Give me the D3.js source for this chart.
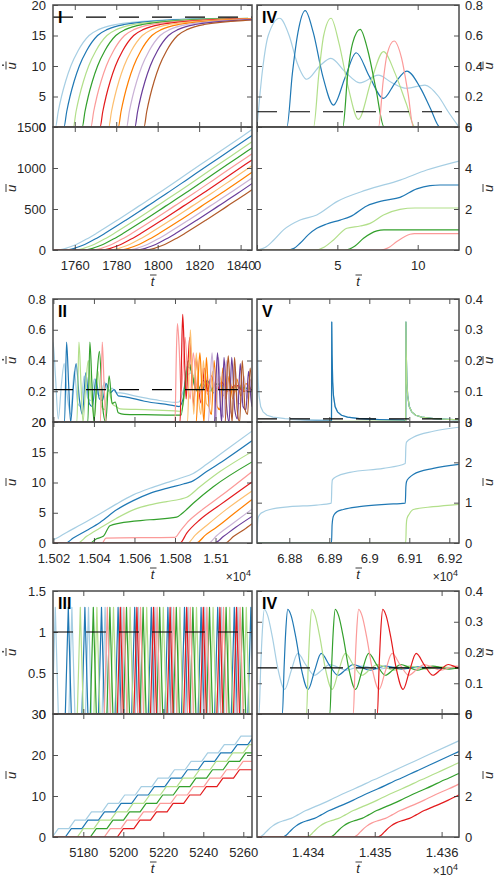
<!DOCTYPE html>
<html>
<head>
<meta charset="utf-8">
<script src="https://cdn.jsdelivr.net/npm/d3@7/dist/d3.min.js"></script>
<style>
  body { margin: 0; background: #fff; }
  text { font-family: "Liberation Sans", Arial, sans-serif; }
</style>
</head>
<body>
<svg id="chart" width="503" height="880"></svg>
<script>
// ColorBrewer "Paired" order, yellow left out
const paired = ["#a6cee3", "#1f78b4", "#b2df8a", "#33a02c", "#fb9a99", "#e31a1c", "#fdbf6f", "#ff7f00", "#cab2d6", "#6a3d9a", "#b15928"];

// ---------- panel I (rows 1, left) ----------
const domainI = [1749.5, 1845.5];
const ticksI = [1760, 1780, 1800, 1820, 1840];
// velocity levels and the time each curve crosses them
const velLevelsI = [0, 0, 2.5, 5, 7.5, 10, 12.5, 15, 16, 16.8, 17.5, 17.8];
const velCrossI = [
  [1749, 1750.7, 1752.0, 1753.6, 1755.6, 1758.1, 1761.6, 1766.9, 1771.7, 1779.7, 1800.7, 1830.7],
  [1749, 1754.8, 1756.1, 1757.7, 1759.7, 1762.2, 1765.7, 1771.0, 1775.8, 1783.8, 1804.8, 1834.8],
  [1749, 1759.3, 1760.6, 1762.2, 1764.2, 1766.7, 1770.2, 1775.5, 1780.3, 1788.3, 1809.3, 1839.3],
  [1749, 1763.6, 1764.9, 1766.5, 1768.5, 1771.0, 1774.5, 1779.8, 1784.6, 1792.6, 1813.6, 1843.6],
  [1749, 1767.8, 1769.1, 1770.7, 1772.7, 1775.2, 1778.7, 1784.0, 1788.8, 1796.8, 1817.8, 1847.8],
  [1749, 1772.2, 1773.5, 1775.1, 1777.1, 1779.6, 1783.1, 1788.4, 1793.2, 1801.2, 1822.2, 1852.2],
  [1749, 1776.4, 1777.7, 1779.3, 1781.3, 1783.8, 1787.3, 1792.6, 1797.4, 1805.4, 1826.4, 1856.4],
  [1749, 1781.0, 1782.3, 1783.9, 1785.9, 1788.4, 1791.9, 1797.2, 1802.0, 1810.0, 1831.0, 1861.0],
  [1749, 1785.0, 1786.3, 1787.9, 1789.9, 1792.4, 1795.9, 1801.2, 1806.0, 1814.0, 1835.0, 1865.0],
  [1749, 1789.0, 1790.3, 1791.9, 1793.9, 1796.4, 1799.9, 1805.2, 1810.0, 1818.0, 1839.0, 1869.0],
  [1749, 1793.4, 1794.7, 1796.3, 1798.3, 1800.8, 1804.3, 1809.6, 1814.4, 1822.4, 1843.4, 1873.4]
];
const posLevelsI = [0, 0, 5, 20, 42, 68, 133, 207, 366, 532, 698, 870, 1042, 1213, 1385, 1559];
const posCrossI = [
  [1749, 1750.7, 1753.2, 1755.7, 1758.2, 1760.7, 1765.7, 1770.7, 1780.7, 1790.7, 1800.7, 1810.7, 1820.7, 1830.7, 1840.7, 1850.7],
  [1749, 1754.8, 1757.3, 1759.8, 1762.3, 1764.8, 1769.8, 1774.8, 1784.8, 1794.8, 1804.8, 1814.8, 1824.8, 1834.8, 1844.8, 1854.8],
  [1749, 1759.3, 1761.8, 1764.3, 1766.8, 1769.3, 1774.3, 1779.3, 1789.3, 1799.3, 1809.3, 1819.3, 1829.3, 1839.3, 1849.3, 1859.3],
  [1749, 1763.6, 1766.1, 1768.6, 1771.1, 1773.6, 1778.6, 1783.6, 1793.6, 1803.6, 1813.6, 1823.6, 1833.6, 1843.6, 1853.6, 1863.6],
  [1749, 1767.8, 1770.3, 1772.8, 1775.3, 1777.8, 1782.8, 1787.8, 1797.8, 1807.8, 1817.8, 1827.8, 1837.8, 1847.8, 1857.8, 1867.8],
  [1749, 1772.2, 1774.7, 1777.2, 1779.7, 1782.2, 1787.2, 1792.2, 1802.2, 1812.2, 1822.2, 1832.2, 1842.2, 1852.2, 1862.2, 1872.2],
  [1749, 1776.4, 1778.9, 1781.4, 1783.9, 1786.4, 1791.4, 1796.4, 1806.4, 1816.4, 1826.4, 1836.4, 1846.4, 1856.4, 1866.4, 1876.4],
  [1749, 1781.0, 1783.5, 1786.0, 1788.5, 1791.0, 1796.0, 1801.0, 1811.0, 1821.0, 1831.0, 1841.0, 1851.0, 1861.0, 1871.0, 1881.0],
  [1749, 1785.0, 1787.5, 1790.0, 1792.5, 1795.0, 1800.0, 1805.0, 1815.0, 1825.0, 1835.0, 1845.0, 1855.0, 1865.0, 1875.0, 1885.0],
  [1749, 1789.0, 1791.5, 1794.0, 1796.5, 1799.0, 1804.0, 1809.0, 1819.0, 1829.0, 1839.0, 1849.0, 1859.0, 1869.0, 1879.0, 1889.0],
  [1749, 1793.4, 1795.9, 1798.4, 1800.9, 1803.4, 1808.4, 1813.4, 1823.4, 1833.4, 1843.4, 1853.4, 1863.4, 1873.4, 1883.4, 1893.4]
];

// ---------- panel IV (row 1, right) ----------
const domainIVa = [0, 12.57];
const ticksIVa = [0, 5, 10];
const velIVa = [
  [[0, 0], [0.35, 0.38], [0.7, 0.6], [1.41, 0.713], [2.0, 0.6], [2.5, 0.42], [3.1, 0.313], [3.9, 0.4], [4.6, 0.45], [5.5, 0.36], [6.4, 0.29], [7.55, 0.34], [8.4, 0.29], [9.3, 0.254], [10.45, 0.275], [11.3, 0.2], [11.9, 0.1], [12.57, 0]],
  [[0, 0], [1.86, 0], [2.2, 0.35], [2.55, 0.62], [3.0, 0.763], [3.5, 0.62], [4.1, 0.33], [4.76, 0.144], [5.5, 0.33], [6.17, 0.487], [7.0, 0.33], [7.87, 0.188], [8.6, 0.29], [9.32, 0.367], [10.2, 0.25], [10.8, 0.12], [11.39, 0], [12.57, 0]],
  [[0, 0], [3.52, 0], [3.85, 0.35], [4.15, 0.6], [4.61, 0.713], [5.1, 0.55], [5.7, 0.25], [6.31, 0.05], [7.1, 0.3], [7.87, 0.494], [8.6, 0.35], [9.3, 0.15], [9.83, 0], [12.57, 0]],
  [[0, 0], [5.34, 0], [5.65, 0.35], [5.95, 0.55], [6.42, 0.64], [6.9, 0.5], [7.4, 0.25], [7.91, 0], [12.57, 0]],
  [[0, 0], [7.56, 0], [7.85, 0.3], [8.1, 0.48], [8.53, 0.564], [9.0, 0.45], [9.4, 0.22], [9.73, 0], [12.57, 0]]
];
const posIVa = [
  [[0, 0], [0.5, 0.12], [1.0, 0.45], [1.65, 0.98], [2.68, 1.46], [3.72, 1.71], [4.97, 2.36], [6.83, 2.93], [8.9, 3.41], [10.56, 3.9], [12.57, 4.34]],
  [[0, 0], [1.86, 0], [2.3, 0.08], [2.68, 0.33], [3.2, 0.75], [3.72, 1.06], [4.34, 1.27], [5.17, 1.46], [5.8, 1.63], [6.83, 2.15], [7.87, 2.41], [8.9, 2.57], [9.94, 2.98], [10.77, 3.14], [11.4, 3.17], [12.57, 3.17]],
  [[0, 0], [3.6, 0], [4.2, 0.15], [4.76, 0.49], [5.59, 1.06], [6.42, 1.17], [7.04, 1.3], [7.87, 1.71], [8.9, 1.98], [9.83, 2.05], [12.57, 2.05]],
  [[0, 0], [5.45, 0], [6.1, 0.2], [6.63, 0.57], [7.46, 0.93], [7.9, 0.98], [12.57, 0.98]],
  [[0, 0], [7.7, 0], [8.2, 0.12], [8.7, 0.41], [9.52, 0.77], [9.8, 0.8], [12.57, 0.8]]
];

// ---------- panel II (row 2, left) ----------
const domainII = [15019.8, 15118];
const ticksII = [15020, 15040, 15060, 15080, 15100];
const tickLabelsII = ["1.502", "1.504", "1.506", "1.508", "1.51"];
const velII = [
  [[15019, 0.45], [15019.8, 0.52], [15021, 0.3], [15022.4, 0.02], [15024, 0.25], [15025.3, 0.38], [15027, 0.15], [15028.5, 0.05], [15030.3, 0.33], [15032, 0.12], [15033.5, 0.1], [15035.2, 0.3], [15037, 0.15], [15038.5, 0.14], [15040.2, 0.28], [15042, 0.18], [15043.5, 0.17], [15045.2, 0.26], [15047, 0.2], [15049, 0.22], [15051, 0.19], [15053, 0.19], [15060, 0.17], [15070, 0.145], [15080, 0.128], [15082, 0.13], [15084, 0.2], [15086, 0.3], [15088, 0.32], [15090, 0.25], [15093, 0.2], [15096, 0.26], [15099, 0.2], [15102, 0.24], [15106, 0.2], [15110, 0.23], [15114, 0.21], [15118, 0.22]],
  [[15019, 0], [15025.5, 0], [15026.5, 0.52], [15027.5, 0.25], [15028.5, 0], [15030, 0.25], [15031.2, 0.38], [15032.8, 0.15], [15034.3, 0.05], [15036, 0.32], [15037.7, 0.12], [15039.2, 0.1], [15041, 0.28], [15042.7, 0.15], [15044.2, 0.14], [15046, 0.25], [15048, 0.19], [15050, 0.21], [15052, 0.17], [15055, 0.165], [15065, 0.135], [15080, 0.105], [15082, 0.1], [15084, 0.15], [15086, 0.36], [15088, 0.34], [15090, 0.22], [15093, 0.2], [15096, 0.27], [15099, 0.19], [15102, 0.25], [15106, 0.2], [15110, 0.24], [15114, 0.2], [15118, 0.22]],
  [[15019, 0], [15031.6, 0], [15032.6, 0.52], [15033.6, 0.25], [15034.6, 0], [15036, 0.25], [15037.2, 0.4], [15038.8, 0.15], [15040.3, 0.03], [15042, 0.33], [15043.7, 0.1], [15045.2, 0.08], [15047, 0.22], [15049, 0.12], [15051, 0.1], [15053, 0.085], [15065, 0.08], [15080, 0.072], [15083, 0.07], [15085, 0.2], [15087, 0.38], [15089, 0.3], [15092, 0.2], [15095, 0.26], [15098, 0.2], [15102, 0.24], [15106, 0.2], [15110, 0.23], [15118, 0.21]],
  [[15019, 0], [15037, 0], [15038, 0.52], [15039, 0.25], [15040, 0], [15041.5, 0.3], [15042.7, 0.46], [15044.3, 0.1], [15045.8, 0], [15047.5, 0.3], [15049, 0.12], [15050.5, 0.13], [15052, 0.06], [15055, 0.05], [15065, 0.048], [15080, 0.045], [15083, 0.045], [15085, 0.25], [15086.5, 0.4], [15088.5, 0.3], [15091, 0.2], [15094, 0.27], [15097, 0.2], [15101, 0.25], [15105, 0.2], [15110, 0.23], [15118, 0.21]],
  [[15019, 0], [15043.2, 0], [15044.1, 0.52], [15045, 0.25], [15046, 0], [15080, 0], [15080.6, 0.4], [15081.2, 0.64], [15082, 0.5], [15083, 0.2], [15084, 0.35], [15085, 0.55], [15086.2, 0.3], [15087.5, 0.15], [15089, 0.45], [15090.5, 0.25], [15092, 0.15], [15094, 0.35], [15096, 0.18], [15098, 0.3], [15100, 0.2], [15103, 0.26], [15106, 0.2], [15110, 0.24], [15114, 0.2], [15118, 0.22]],
  [[15019, 0], [15082.5, 0], [15083.2, 0.4], [15083.8, 0.7], [15084.6, 0.45], [15085.5, 0.15], [15086.5, 0.4], [15087.3, 0.55], [15088.3, 0.3], [15089.3, 0.1], [15090.5, 0.42], [15091.8, 0.2], [15093, 0.12], [15094.5, 0.35], [15096, 0.2], [15098, 0.3], [15100.5, 0.2], [15103, 0.26], [15106, 0.2], [15110, 0.24], [15114, 0.2], [15118, 0.22]],
  [[15019, 0], [15086.2, 0], [15087, 0.35], [15087.6, 0.6], [15088.4, 0.3], [15089.3, 0.05], [15090.5, 0.45], [15091.7, 0.15], [15092.8, 0.05], [15094, 0.4], [15095.5, 0.12], [15097, 0.1], [15098.5, 0.33], [15100, 0.15], [15102, 0.3], [15104, 0.17], [15106.5, 0.27], [15109, 0.19], [15112, 0.24], [15115, 0.2], [15118, 0.22]],
  [[15019, 0], [15090.5, 0], [15091.5, 0.3], [15092.3, 0.45], [15093.3, 0.2], [15094.3, 0], [15095.5, 0.42], [15096.8, 0.1], [15098, 0.05], [15099.3, 0.4], [15100.8, 0.1], [15102.2, 0.08], [15103.6, 0.35], [15105, 0.15], [15106.8, 0.3], [15108.5, 0.15], [15110.5, 0.28], [15112.5, 0.17], [15115, 0.25], [15118, 0.2]],
  [[15019, 0], [15096.5, 0], [15097.5, 0.3], [15098.3, 0.45], [15099.3, 0.2], [15100.3, 0], [15101.5, 0.42], [15102.8, 0.1], [15104, 0.03], [15105.3, 0.4], [15106.8, 0.1], [15108.2, 0.05], [15109.6, 0.36], [15111, 0.12], [15112.5, 0.12], [15114, 0.3], [15115.5, 0.15], [15117, 0.28], [15118, 0.22]],
  [[15019, 0], [15099.5, 0], [15100.3, 0.3], [15101, 0.45], [15102, 0.2], [15103, 0], [15104.2, 0.42], [15105.5, 0.1], [15106.7, 0], [15108, 0.42], [15109.5, 0.08], [15110.8, 0.02], [15112.2, 0.38], [15113.6, 0.1], [15115, 0.08], [15116.3, 0.33], [15117.5, 0.15], [15118, 0.1]],
  [[15019, 0], [15104.8, 0], [15105.6, 0.3], [15106.3, 0.43], [15107.2, 0.2], [15108.2, 0], [15109.4, 0.42], [15110.7, 0.08], [15111.9, 0], [15113.2, 0.4], [15114.6, 0.08], [15115.8, 0.05], [15117.1, 0.35], [15118, 0.2]]
];
const posII = [
  [[15019, 0.45], [15020, 0.55], [15026.5, 1.75], [15036.4, 3.56], [15043, 4.82], [15051.2, 6.47], [15059.4, 7.95], [15067.6, 9.04], [15075.9, 9.97], [15082.5, 10.7], [15089, 11.5], [15095.6, 13.0], [15105.5, 15.45], [15118, 18.5]],
  [[15019, 0], [15026, 0], [15029.8, 0.82], [15036.4, 2.08], [15043, 3.4], [15051.2, 5.48], [15059.4, 7.0], [15067.6, 8.2], [15075.9, 9.04], [15084.1, 9.75], [15088.2, 10.14], [15095.6, 11.8], [15105.5, 13.97], [15118, 16.9]],
  [[15019, 0], [15032, 0], [15036.4, 1.1], [15043, 2.47], [15051.2, 4.1], [15059.4, 5.48], [15067.6, 6.3], [15075.9, 6.85], [15082.5, 7.23], [15085.8, 7.56], [15092.3, 9.3], [15102.2, 11.8], [15118, 15.1]],
  [[15019, 0], [15038, 0], [15041.3, 0.71], [15044.6, 1.1], [15047.9, 2.85], [15052.8, 3.29], [15067.6, 3.84], [15080.8, 4.27], [15083.3, 4.82], [15089, 6.58], [15098.9, 9.3], [15118, 13.4]],
  [[15019, 0], [15044.1, 0], [15045.9, 0.82], [15080, 0.93], [15082.5, 1.92], [15085.8, 3.29], [15092.3, 5.2], [15102.2, 7.67], [15118, 11.8]],
  [[15019, 0], [15082.5, 0], [15085.8, 1.64], [15092.3, 3.84], [15102.2, 6.3], [15118, 10.1]],
  [[15019, 0], [15086.2, 0], [15090, 1.3], [15095.6, 2.9], [15105.5, 5.6], [15118, 8.6]],
  [[15019, 0], [15090.5, 0], [15095, 1.3], [15100.5, 2.6], [15108.8, 4.8], [15118, 7.2]],
  [[15019, 0], [15096.5, 0], [15100.5, 1.2], [15108, 3.1], [15118, 5.6]],
  [[15019, 0], [15099.5, 0], [15104, 1.1], [15110, 2.6], [15118, 4.4]],
  [[15019, 0], [15104.8, 0], [15109, 1.1], [15114, 2.2], [15118, 3.2]]
];

// ---------- panel V (row 2, right) ----------
const domainV = [68719.25, 69224.25];
const ticksV = [68800, 68900, 69000, 69100, 69200];
const tickLabelsV = ["6.88", "6.89", "6.9", "6.91", "6.92"];
const spikeTimesV = [[68719.4, 68905.5, 69091], [68905.5, 69091], [69091]];
const spikeDecayDt = [0, 0.6, 1.5, 3, 5, 9, 15, 25, 40, 70, 120, 180];
const spikeDecayV = [0.004, 0.325, 0.22, 0.13, 0.085, 0.05, 0.033, 0.022, 0.016, 0.011, 0.008, 0.006];
const posV = [
  [[68719.3, 0], [68720.5, 0.45], [68722, 0.62], [68726.5, 0.71], [68735, 0.77], [68751.5, 0.83], [68801.5, 0.9], [68868, 0.94], [68905, 0.99], [68906.5, 1.45], [68908, 1.57], [68918, 1.65], [68951.5, 1.75], [69035, 1.85], [69090, 1.97], [69091.5, 2.4], [69093, 2.5], [69110, 2.62], [69160, 2.77], [69224, 2.87]],
  [[68719, 0], [68905.5, 0], [68907, 0.45], [68909, 0.62], [68912, 0.7], [68920, 0.78], [68935, 0.83], [68975, 0.9], [69040, 0.96], [69090, 0.99], [69091.5, 1.4], [69093, 1.52], [69100, 1.62], [69110, 1.7], [69160, 1.85], [69224, 1.95]],
  [[68719, 0], [69091, 0], [69092.5, 0.45], [69094, 0.6], [69100, 0.72], [69110, 0.83], [69160, 0.9], [69224, 0.96]]
];

// ---------- panel III (row 3, left) ----------
const domainIII = [5164.85, 5264.35];
const ticksIII = [5180, 5200, 5220, 5240, 5260];
const stepTimesIII = [
  [5166, 5174.3, 5182.6, 5190.9, 5199.2, 5207.5, 5215.8, 5224.1, 5232.4, 5240.7, 5249, 5257.3],
  [5172.5, 5180.8, 5189.1, 5197.4, 5205.7, 5214, 5222.3, 5230.6, 5238.9, 5247.2, 5255.5, 5263.8],
  [5178.5, 5186.8, 5195.1, 5203.4, 5211.7, 5220, 5228.3, 5236.6, 5244.9, 5253.2, 5261.5],
  [5185, 5193.3, 5201.6, 5209.9, 5218.2, 5226.5, 5234.8, 5243.1, 5251.4, 5259.7],
  [5192, 5200.3, 5208.6, 5216.9, 5225.2, 5233.5, 5241.8, 5250.1, 5258.4],
  [5198.5, 5206.8, 5215.1, 5223.4, 5231.7, 5240, 5248.3, 5256.6]
];
const spikePeakIII = 1.3;
const spikeHalfWidthIII = 1.5;
const stepHeightIII = 2.05;

// ---------- panel IV (row 3, right) ----------
const domainIVb = [14332.4, 14362.6];
const ticksIVb = [14340, 14350, 14360];
const tickLabelsIVb = ["1.434", "1.435", "1.436"];
const velLevelsIVb = [0, 0, 0.15, 0.27, 0.34, 0.32, 0.25, 0.15, 0.08, 0.14, 0.197, 0.16, 0.126, 0.144, 0.161, 0.152, 0.1425, 0.149, 0.156, 0.151, 0.146, 0.149, 0.153, 0.15, 0.15, 0.15];
const posLevelsIVb = [0, 0, 0.02, 0.07, 0.16, 0.33, 0.53, 0.69, 0.81, 0.91, 1.08, 1.29, 1.47, 1.63, 1.80, 1.99, 2.17, 2.34, 2.52, 2.71, 2.88, 3.06, 3.24, 3.51, 3.96, 4.71];
const timesIVb = [
  [14332, 14332.7, 14332.95, 14333.2, 14333.5, 14334.0, 14334.7, 14335.5, 14336.55, 14337.5, 14338.5, 14339.7, 14341.0, 14342.15, 14343.3, 14344.5, 14345.7, 14346.9, 14348.1, 14349.3, 14350.5, 14351.7, 14352.9, 14354.7, 14357.7, 14362.7],
  [14332, 14336.2, 14336.45, 14336.7, 14337.0, 14337.5, 14338.2, 14339.0, 14340.05, 14341.0, 14342.0, 14343.2, 14344.5, 14345.65, 14346.8, 14348.0, 14349.2, 14350.4, 14351.6, 14352.8, 14354.0, 14355.2, 14356.4, 14358.2, 14361.2, 14366.2],
  [14332, 14339.8, 14340.05, 14340.3, 14340.6, 14341.1, 14341.8, 14342.6, 14343.65, 14344.6, 14345.6, 14346.8, 14348.1, 14349.25, 14350.4, 14351.6, 14352.8, 14354.0, 14355.2, 14356.4, 14357.6, 14358.8, 14360.0, 14361.8, 14364.8, 14369.8],
  [14332, 14343.3, 14343.55, 14343.8, 14344.1, 14344.6, 14345.3, 14346.1, 14347.15, 14348.1, 14349.1, 14350.3, 14351.6, 14352.75, 14353.9, 14355.1, 14356.3, 14357.5, 14358.7, 14359.9, 14361.1, 14362.3, 14363.5, 14365.3, 14368.3, 14373.3],
  [14332, 14346.8, 14347.05, 14347.3, 14347.6, 14348.1, 14348.8, 14349.6, 14350.65, 14351.6, 14352.6, 14353.8, 14355.1, 14356.25, 14357.4, 14358.6, 14359.8, 14361.0, 14362.2, 14363.4, 14364.6, 14365.8, 14367.0, 14368.8, 14371.8, 14376.8],
  [14332, 14350.4, 14350.65, 14350.9, 14351.2, 14351.7, 14352.4, 14353.2, 14354.25, 14355.2, 14356.2, 14357.4, 14358.7, 14359.85, 14361.0, 14362.2, 14363.4, 14364.6, 14365.8, 14367.0, 14368.2, 14369.4, 14370.6, 14372.4, 14375.4, 14380.4]
];

// ---------- drawing ----------
const svg = d3.select("#chart");
const cols = [{x0: 53, x1: 252}, {x0: 257, x1: 459}];
const rows = [{top: 5, mid: 127, bot: 250}, {top: 299, mid: 422, bot: 543}, {top: 591, mid: 714, bot: 837}];
const ink = "#262626";
let clipCount = 0;

const zip = (ts, vs) => ts.map((t, i) => [t, vs[i]]);

function styleAxis(g, keepText) {
  g.select(".domain").remove();
  g.selectAll(".tick line").attr("stroke", ink).attr("stroke-width", 0.8);
  g.selectAll(".tick text").attr("fill", ink).attr("font-size", 13)
    .attr("font-family", "Liberation Sans, Arial, sans-serif");
  if (!keepText) g.selectAll(".tick text").remove();
}

// italic u with a bar (and optionally a dot) built from separate marks
function quantityLabel(g, withDot) {
  g.append("text").attr("text-anchor", "middle").attr("y", 0)
    .attr("font-family", "DejaVu Serif, serif").attr("font-style", "italic")
    .attr("font-size", 13).attr("fill", ink).text("u");
  g.append("line").attr("x1", -3.5).attr("x2", 4.5).attr("y1", -10).attr("y2", -10)
    .attr("stroke", ink).attr("stroke-width", 0.9);
  if (withDot) g.append("circle").attr("cx", 0.8).attr("cy", -13).attr("r", 0.9).attr("fill", ink);
}

function addPanel(o) {
  const c = cols[o.col], r = rows[o.row];
  const x = d3.scaleLinear().domain(o.xDomain).range([c.x0, c.x1]);
  const halves = [
    {top: r.top, bot: r.mid, dom: o.yUp, ticks: o.yUpTicks, series: o.up, curve: o.curveUp, dash: o.dash, dot: true},
    {top: r.mid, bot: r.bot, dom: o.yLo, ticks: o.yLoTicks, series: o.lo, curve: o.curveLo, dash: null, dot: false}
  ];
  halves.forEach((h, k) => {
    const y = d3.scaleLinear().domain(h.dom).range([h.bot, h.top]);
    const id = "clip" + clipCount++;
    svg.append("clipPath").attr("id", id).append("rect")
      .attr("x", c.x0).attr("y", h.top).attr("width", c.x1 - c.x0).attr("height", h.bot - h.top);
    const plot = svg.append("g").attr("clip-path", `url(#${id})`);
    const line = d3.line().x(d => x(d[0])).y(d => y(d[1])).curve(h.curve || d3.curveMonotoneX);
    h.series.forEach((pts, i) => {
      plot.append("path").attr("d", line(pts)).attr("fill", "none")
        .attr("stroke", o.colors[i]).attr("stroke-width", 1.2).attr("stroke-linejoin", "round");
    });
    if (h.dash != null) {
      plot.append("line")
        .attr("x1", x(o.xDomain[0])).attr("x2", x(o.xDomain[1]))
        .attr("y1", y(h.dash)).attr("y2", y(h.dash))
        .attr("stroke", "#000").attr("stroke-width", 1.2).attr("stroke-dasharray", "20,13");
    }

    // y axes: labelled side + inward ticks on the other side
    const mainAxis = o.col === 0 ? d3.axisLeft(y) : d3.axisRight(y);
    svg.append("g").attr("transform", `translate(${o.col === 0 ? c.x0 : c.x1},0)`)
      .call(mainAxis.tickValues(h.ticks).tickSize(-5).tickPadding(o.col === 0 ? 7 : 6).tickFormat(d => String(d)))
      .call(g => styleAxis(g, true));
    const oppAxis = o.col === 0 ? d3.axisRight(y) : d3.axisLeft(y);
    svg.append("g").attr("transform", `translate(${o.col === 0 ? c.x1 : c.x0},0)`)
      .call(oppAxis.tickValues(h.ticks).tickSize(-5))
      .call(g => styleAxis(g, false));

    // x axes
    svg.append("g").attr("transform", `translate(0,${h.bot})`)
      .call(d3.axisBottom(x).tickValues(o.xTicks).tickSize(-5).tickPadding(11)
        .tickFormat((d, i) => o.xLabels ? o.xLabels[i] : String(d)))
      .call(g => styleAxis(g, k === 1));
    svg.append("g").attr("transform", `translate(0,${h.top})`)
      .call(d3.axisTop(x).tickValues(o.xTicks).tickSize(-5))
      .call(g => styleAxis(g, false));

    svg.append("rect").attr("x", c.x0).attr("y", h.top)
      .attr("width", c.x1 - c.x0).attr("height", h.bot - h.top)
      .attr("fill", "none").attr("stroke", "#4a4a4a").attr("stroke-width", 1.5);

    const lab = svg.append("g")
      .attr("transform", `translate(${o.col === 0 ? 16 : 493},${(h.top + h.bot) / 2}) rotate(-90)`);
    quantityLabel(lab, h.dot);
  });

  svg.append("text").attr("x", c.x0 + 5).attr("y", r.top + 18)
    .attr("font-weight", "bold").attr("font-size", 16).attr("fill", "#000").text(o.label);

  const tl = svg.append("g").attr("transform", `translate(${(c.x0 + c.x1) / 2},${r.bot + 36})`);
  tl.append("text").attr("text-anchor", "middle")
    .attr("font-family", "DejaVu Serif, serif").attr("font-style", "italic")
    .attr("font-size", 13).attr("fill", ink).text("t");
  tl.append("line").attr("x1", -2.5).attr("x2", 4).attr("y1", -11).attr("y2", -11)
    .attr("stroke", ink).attr("stroke-width", 0.9);

  if (o.expo) {
    const t = svg.append("text").attr("x", c.x1 - 1).attr("y", r.bot + 38)
      .attr("text-anchor", "end").attr("font-size", 12).attr("fill", ink);
    t.append("tspan").text("\u00d710");
    t.append("tspan").attr("dy", -5).attr("font-size", 9).text("4");
  }
}

// panel I
addPanel({
  col: 0, row: 0, label: "I", colors: paired,
  xDomain: domainI, xTicks: ticksI,
  yUp: [0, 20], yUpTicks: [0, 5, 10, 15, 20], dash: 18,
  yLo: [0, 1500], yLoTicks: [0, 500, 1000, 1500],
  up: velCrossI.map(ts => zip(ts, velLevelsI)),
  lo: posCrossI.map(ts => zip(ts, posLevelsI))
});

// panel IV, top right
addPanel({
  col: 1, row: 0, label: "IV", colors: paired.slice(0, 5),
  xDomain: domainIVa, xTicks: ticksIVa,
  yUp: [0, 0.8], yUpTicks: [0, 0.2, 0.4, 0.6, 0.8], dash: 0.1,
  yLo: [0, 6], yLoTicks: [0, 2, 4, 6],
  up: velIVa, lo: posIVa
});

// panel II
addPanel({
  col: 0, row: 1, label: "II", colors: paired, expo: true,
  xDomain: domainII, xTicks: ticksII, xLabels: tickLabelsII,
  yUp: [0, 0.8], yUpTicks: [0, 0.2, 0.4, 0.6, 0.8], dash: 0.21,
  yLo: [0, 20], yLoTicks: [0, 5, 10, 15, 20],
  up: velII, lo: posII
});

// panel V
const velV = spikeTimesV.map(times => {
  const pts = [[domainV[0] - 1, 0]];
  times.forEach(ts => spikeDecayDt.forEach((dt, i) => pts.push([ts + dt, spikeDecayV[i]])));
  pts.push([domainV[1] + 1, spikeDecayV[spikeDecayV.length - 1]]);
  return pts;
});
addPanel({
  col: 1, row: 1, label: "V", colors: paired.slice(0, 3), expo: true,
  xDomain: domainV, xTicks: ticksV, xLabels: tickLabelsV,
  yUp: [0, 0.4], yUpTicks: [0, 0.1, 0.2, 0.3, 0.4], dash: 0.01,
  yLo: [0, 3], yLoTicks: [0, 1, 2, 3],
  up: velV, lo: posV, curveUp: d3.curveLinear
});

// panel III: spikes in velocity, steps in position
const velIII = stepTimesIII.map(times => {
  const pts = [[domainIII[0] - 1, 0]];
  times.forEach(ts => {
    pts.push([ts - spikeHalfWidthIII, 0], [ts, spikePeakIII], [ts + spikeHalfWidthIII, 0]);
  });
  pts.push([domainIII[1] + 1, 0]);
  return pts;
});
const posIII = stepTimesIII.map(times => {
  const pts = [[domainIII[0] - 1, 0]];
  times.forEach((ts, k) => {
    pts.push([ts - spikeHalfWidthIII, k * stepHeightIII], [ts + spikeHalfWidthIII, (k + 1) * stepHeightIII]);
  });
  pts.push([domainIII[1] + 1, times.length * stepHeightIII]);
  return pts;
});
addPanel({
  col: 0, row: 2, label: "III", colors: paired.slice(0, 6),
  xDomain: domainIII, xTicks: ticksIII,
  yUp: [0, 1.5], yUpTicks: [0, 0.5, 1, 1.5], dash: 1,
  yLo: [0, 30], yLoTicks: [0, 10, 20, 30],
  up: velIII, lo: posIII, curveUp: d3.curveLinear, curveLo: d3.curveLinear
});

// panel IV, bottom right
addPanel({
  col: 1, row: 2, label: "IV", colors: paired.slice(0, 6), expo: true,
  xDomain: domainIVb, xTicks: ticksIVb, xLabels: tickLabelsIVb,
  yUp: [0, 0.4], yUpTicks: [0, 0.1, 0.2, 0.3, 0.4], dash: 0.15,
  yLo: [0, 6], yLoTicks: [0, 2, 4, 6],
  up: timesIVb.map(ts => zip(ts, velLevelsIVb)),
  lo: timesIVb.map(ts => zip(ts, posLevelsIVb))
});
</script>
</body>
</html>
